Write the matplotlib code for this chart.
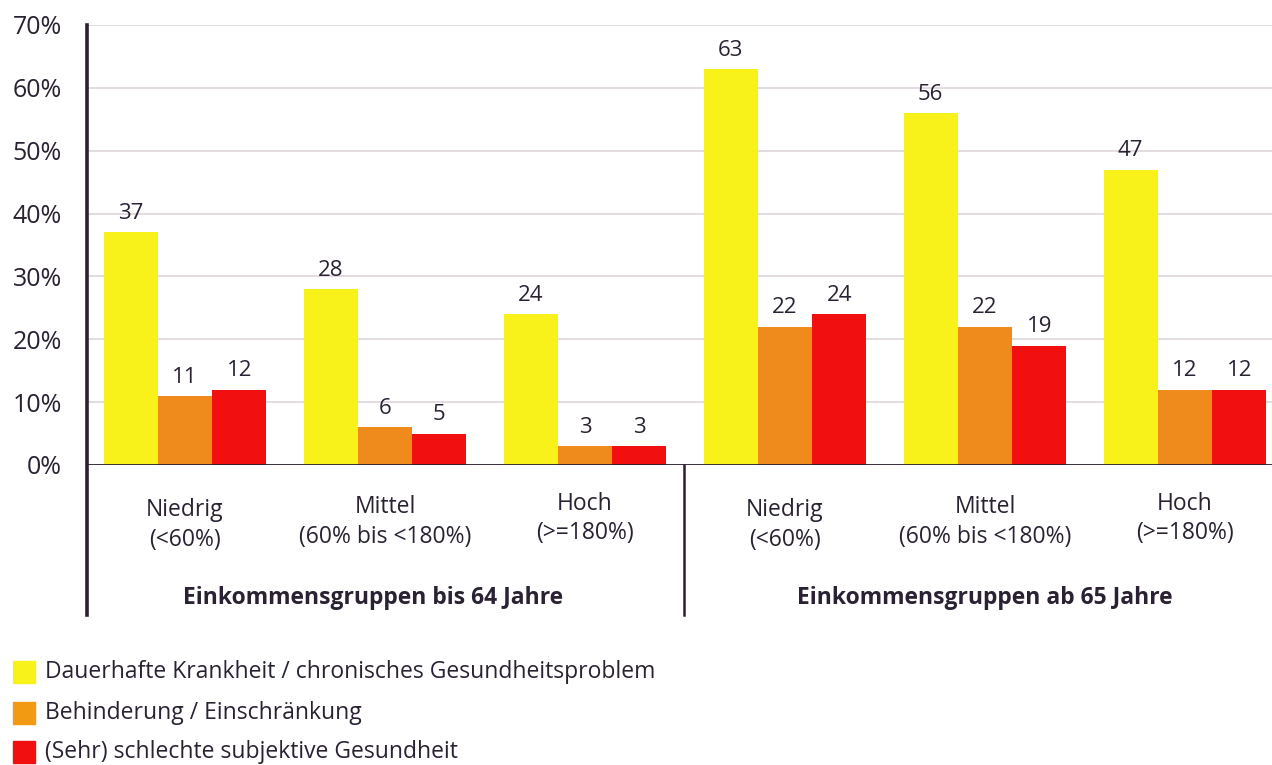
import matplotlib
matplotlib.use("Agg")
import matplotlib.pyplot as plt
from matplotlib.patches import Rectangle
import numpy as np

plt.rcParams['font.family'] = ['Open Sans', 'DejaVu Sans']

# ---- data ----
groups = ["Einkommensgruppen bis 64 Jahre", "Einkommensgruppen ab 65 Jahre"]
income_names = ["Niedrig", "Mittel", "Hoch"]
income_ranges = ["(<60%)", "(60% bis <180%)", "(>=180%)"]
series_names = ["Dauerhafte Krankheit / chronisches Gesundheitsproblem",
                "Behinderung / Einschränkung",
                "(Sehr) schlechte subjektive Gesundheit"]
chronic = [37, 28, 24, 63, 56, 47]
disability = [11, 6, 3, 22, 22, 12]
bad_health = [12, 5, 3, 24, 19, 12]
yticks = [0, 10, 20, 30, 40, 50, 60, 70]
ytick_labels = ["0%", "10%", "20%", "30%", "40%", "50%", "60%", "70%"]

colors = ["#F8F21A", "#EF8A1C", "#F20F0F"]
legend_colors = ["#F8F21A", "#F29A12", "#F20F0F"]
text_color = "#2A2232"

W, H = 1272, 765
fig = plt.figure(figsize=(W / 100, H / 100), dpi=100)
ax = fig.add_axes([87 / W, 1 - 465 / H, (W - 87) / W, (465 - 25) / H])

x = np.arange(6)
width = 0.27
offsets = [-0.272, 0.0, 0.272]
for s, (vals, c) in enumerate(zip([chronic, disability, bad_health], colors)):
    ax.bar(x + offsets[s], vals, width=width, color=c, zorder=3)
    for xi, v in zip(x + offsets[s], vals):
        ax.annotate(f"{v}", (xi, v), xytext=(0, 6), textcoords="offset points",
                    ha="center", va="bottom", fontsize=16, color=text_color)

ax.set_xlim(-0.49, 5.435)
ax.set_ylim(0, 70)
ax.set_yticks(yticks)
ax.set_yticklabels(ytick_labels, fontsize=18, color=text_color)
ax.tick_params(axis="y", length=0, pad=18)
ax.set_xticks([])
ax.grid(axis="y", color="#DAD2D6", linewidth=1.1, zorder=0)
for sp in ["top", "right", "bottom", "left"]:
    ax.spines[sp].set_visible(False)

trans = ax.get_xaxis_transform()
lc = "#2A2030"
# zero line
ax.axhline(0, color=lc, linewidth=2, zorder=4)
# left axis line extended downward
ax.plot([-0.49, -0.49], [-0.341, 1.0], transform=trans, color=lc, lw=2.6, clip_on=False, zorder=5)
# divider
ax.plot([2.495, 2.495], [-0.341, 0.0], transform=trans, color=lc, lw=1.8, clip_on=False, zorder=5)

# category labels
name_y = [510, 507, 504]
range_y = [540, 537, 533]
for i in range(6):
    k = i % 3
    y1 = (465 - name_y[k]) / 440
    y2 = (465 - range_y[k]) / 440
    ax.text(x[i], y1, income_names[k], transform=trans, ha="center", va="center",
            fontsize=16.5, color=text_color)
    ax.text(x[i], y2, income_ranges[k], transform=trans, ha="center", va="center",
            fontsize=16.5, color=text_color)

# group titles
title_x = [0.94, 4.0]
for gx, g in zip(title_x, groups):
    ax.text(gx, (465 - 598) / 440, g, transform=trans, ha="center", va="center",
            fontsize=16.5, fontweight="bold", color=text_color)

# legend
leg_y = [672, 713, 752]
for yy, name, c in zip(leg_y, series_names, legend_colors):
    fig.patches.append(Rectangle((13 / W, 1 - (yy + 11) / H), 22 / W, 22 / H,
                                 transform=fig.transFigure, color=c))
    fig.text(45 / W, 1 - yy / H, name, ha="left", va="center", fontsize=16.5,
             color=text_color)

fig.savefig("out.png", dpi=100)
